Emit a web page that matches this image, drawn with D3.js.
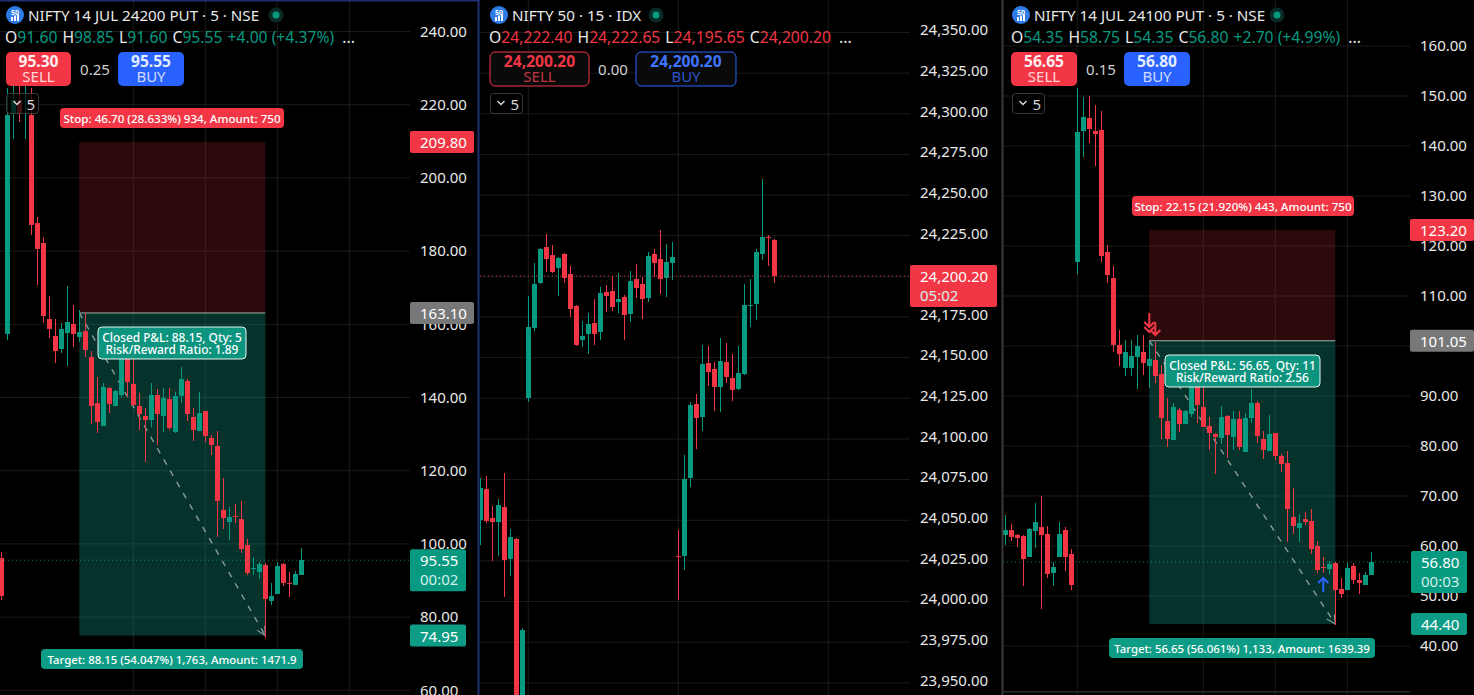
<!DOCTYPE html>
<html><head><meta charset="utf-8">
<script src="https://cdnjs.cloudflare.com/ajax/libs/d3/7.9.0/d3.min.js"></script>
<style>html,body{margin:0;padding:0;background:#000;overflow:hidden}svg{display:block}text{font-family:"Noto Sans",sans-serif}</style>
</head><body><svg id="c" width="1474" height="695"></svg>
<script>
const RED="#f23645",GREEN="#089981",BLUE="#2962ff",WHITE="#e8e8e8";

const p1Open=[96.1,157.4,217.7,221.3,225.7,217.2,187.6,182.2,161.4,156.8,153.3,157.6,160.1,156.5,158.2,151.1,138.5,132.2,142.6,137.7,140.7,150.8,143.7,137.7,135,133.9,140.7,135,139.6,130.6,140.4,144.5,134.7,130.9,136.3,128.9,126.7,109.3,106,107.6,106.8,99.7,93.1,92.3,94.2,84.4,86.3,94.5,89.4,88.8,91.5];
const p1High=[97.8,224.6,228.1,228.1,229.5,224.6,189.3,183.9,167.7,161.4,160.4,170.5,165.3,163.9,163.1,152.7,145.6,144,142.9,142.1,154.3,154.9,156.5,141.2,137.1,144,142.3,142.6,142.6,141.5,148.3,145,137.1,141.5,136.3,129.8,130.8,118,110.1,110.9,111.7,101.3,96.4,95,94.8,89.3,95,94.8,92.3,92.6,98.9];
const p1Low=[84.7,155.7,210.6,215.3,210.6,184.4,170.7,160.4,156.3,149.4,152.2,148.6,153.8,155.2,151.1,132.8,130.3,132.2,135.8,137.7,140.1,140.1,137.7,131.1,122.4,132,127,130.6,131.1,130.3,138.5,133.6,128.1,130.9,127.8,124.3,101.9,104.1,101.1,105.7,97.5,91.5,91.5,90.4,74.3,83.3,86.3,88.5,85.5,88.8,91.5];
const p1Close=[85.8,217.2,221.3,217.7,226.7,187.1,180.7,162.3,158.7,152.7,158.7,160.6,157.4,157.9,153,137.7,133.3,142.9,138.2,141.8,150.8,144.2,138,135.5,133.9,140.7,135.5,139.9,131.7,140.4,145,135.5,131.1,135.8,129.5,127,111.7,107.1,107.4,107.4,98.6,92,93.3,94.5,85,85.8,94,89.3,89.2,91.8,95.6];

const p2Open=[24050.2,24069.3,24051.4,24049,24058.2,24026.2,24038.5,23921,24125.2,24168.3,24196,24218.1,24213.2,24205.2,24213.8,24201.5,24181.8,24160.9,24164.6,24171.4,24165.8,24190.4,24191,24184.3,24187.3,24176.9,24198.4,24195.3,24186.7,24213.8,24210.7,24199,24208.3,24028.1,24028.1,24076,24121.5,24113.5,24146.8,24143.1,24132,24147.4,24137.5,24130.8,24140,24182.3,24183,24213.8,24223.9,24222.4];
const p2High=[24076,24077.3,24058.8,24063.1,24079.1,24044.7,24039.1,23983.8,24188,24208.3,24217.5,24226.1,24219.3,24212,24214.4,24206.4,24182.4,24172.6,24177.5,24186.1,24193.5,24194.7,24200.3,24202.1,24188.6,24203.3,24207.6,24199.6,24215,24216.9,24228.6,24220,24221.2,24044,24090.2,24122.8,24127.7,24157.8,24157.2,24147.4,24162.1,24159,24152.3,24157.2,24195.3,24198.4,24216.9,24259.9,24225.5,24223];
const p2Low=[24034.8,24048.4,24025,24028.1,24002.9,24015.8,23915,23915,24122.8,24166.4,24195.3,24202.7,24202.1,24188,24196,24175,24157.2,24156.6,24152.3,24157.8,24160.9,24178.1,24178.7,24177.5,24160.9,24172,24186.7,24173.8,24184.3,24199.6,24189.2,24187.3,24197.8,24001,24019.5,24070.5,24093.9,24104.9,24132.6,24117.2,24116.6,24134.5,24123.4,24130.2,24139.4,24168.9,24173.2,24210.1,24206.4,24196];
const p2Close=[24069.9,24049.6,24049,24059.4,24025.6,24039.7,23921,23982.6,24168.9,24195.3,24216.9,24210.7,24202.7,24211.3,24199,24180,24157.8,24163.4,24170.7,24164.6,24189.8,24188,24181.2,24186.1,24176.3,24197.2,24192.9,24186.1,24212.6,24208.3,24198.4,24208.9,24212,24027.4,24075.4,24120.9,24112.9,24146.1,24141.2,24132,24148,24138.1,24130.2,24140.6,24182.4,24182.6,24215,24224.2,24223.5,24200.2];

const p3Open=[62.2,63.2,62.2,62,57.8,63,63.8,62.4,54.6,57.8,63.2,58.4,116.8,143,145.6,143,143.2,118.8,113.6,100.2,95.6,95.6,97.8,98.8,96,97.2,94.4,85,81.2,87.2,84.4,86.4,93.4,87.8,84,82.4,81.6,86,81.8,85.4,78.8,85.6,88.6,81.4,79,82.6,78,76.6,65.8,63.6,65.4,65,60,55.8,55.4,56.6,51.4,51.2,56,53.2,52.2,54.2];
const p3High=[66.2,64.4,62.4,62.2,63.6,68.6,70,64,56.8,64.8,63.8,59.4,151.6,149.8,150,148.2,147,120.2,116,103.2,101.2,101.2,102.2,102.2,100.8,100.8,96.2,89.6,88.6,87.6,87.2,95.6,96.2,95.6,85.8,82.6,88,86.2,87,87,86.6,91.4,89,83,86.2,82.6,78.4,79,71.6,66.4,66.8,67.4,61,57.8,57,56.8,53.6,56.6,56.6,54.6,54.8,58.8];
const p3Low=[60.2,61,59.8,52,57.8,59.6,47.4,53.6,52,57.8,55,51.2,114.4,137.8,140.6,136,116.8,112.6,98.8,96,94,94,91.4,94.2,91.6,92.6,81.4,79.8,81.2,82.8,84.4,85.8,84.6,83.8,79.2,74.4,80.4,77.6,79.2,79.2,78.8,84.6,80.6,77.4,79,77.2,74.8,60.8,62.4,60.8,64.2,58.4,54.6,54.6,54.4,44.2,49.6,51.2,52.4,50.4,52.2,54.2];
const p3Close=[63.2,61.8,61.6,57.4,63.4,64.8,62.2,54.4,55.8,62.4,57.8,52.2,142.8,145.8,143.4,142.4,118,114.2,100.2,98.4,98.8,98,100,96.6,97.4,94,85.6,81.4,87.8,84.4,87,93.6,88.2,83.8,82.6,81.8,85.8,82.2,85.4,79.8,85.6,88.6,82,79.2,82.4,78,76.4,67.4,64,64.6,64.8,59.4,55.2,55.6,56.4,51.2,50.4,55.6,53.2,52.6,54.2,56.8];

const p1Ticks=[240,220,200,180,160,140,120,100,80,60];
const p2Ticks=[24350,24325,24300,24275,24250,24225,24200,24175,24150,24125,24100,24075,24050,24025,24000,23975,23950];
const p3Ticks=[160,150,140,130,120,110,100,90,80,70,60,50,40];
const p1Grid=[22,34,46,58], p2Grid=[8,33,58], p3Grid=[12,33,45,57];

const p1Title="NIFTY 14 JUL 24200 PUT · 5 · NSE", p2Title="NIFTY 50 · 15 · IDX", p3Title="NIFTY 14 JUL 24100 PUT · 5 · NSE";
const p1Head=["91.60","98.85","91.60","95.55","+4.00 (+4.37%)"];
const p2Head=["24,222.40","24,222.65","24,195.65","24,200.20",""];
const p3Head=["54.35","58.75","54.35","56.80","+2.70 (+4.99%)"];
const p1Quote=["95.30","0.25","95.55"], p2Quote=["24,200.20","0.00","24,200.20"], p3Quote=["56.65","0.15","56.80"];
const p1Trade=[209.80,163.10,74.95], p3Trade=[123.20,101.05,44.40];
const p1TradeSpan=[13,44], p3TradeSpan=[24,55];
const p1Notes=["Stop: 46.70 (28.633%) 934, Amount: 750","Closed P&L: 88.15, Qty: 5","Risk/Reward Ratio: 1.89","Target: 88.15 (54.047%) 1,763, Amount: 1471.9"];
const p3Notes=["Stop: 22.15 (21.920%) 443, Amount: 750","Closed P&L: 56.65, Qty: 11","Risk/Reward Ratio: 2.56","Target: 56.65 (56.061%) 1,133, Amount: 1639.39"];

const svg=d3.select("#c");
const defs=svg.append("defs");
defs.append("marker").attr("id","ah").attr("markerUnits","userSpaceOnUse").attr("viewBox","0 0 10 10").attr("refX",9).attr("refY",5)
 .attr("markerWidth",11).attr("markerHeight",11).attr("orient","auto")
 .append("path").attr("d","M1,1L9,5L1,9").attr("fill","none").attr("stroke","#8c9c98").attr("stroke-width",1);

function rrect(g,x,y,w,h,fill,stroke){return g.append("rect").attr("x",x).attr("y",y).attr("width",w).attr("height",h).attr("rx",5).attr("fill",fill).attr("stroke",stroke||"none");}
function txt(g,x,y,s,size,fill,anchor,weight){return g.append("text").attr("x",x).attr("y",y).attr("font-size",size).attr("fill",fill).attr("text-anchor",anchor||"start").attr("dominant-baseline","central").attr("font-weight",weight||400).text(s);}

function panel(o){
 const id="cl"+o.left;
 defs.append("clipPath").attr("id",id).append("rect").attr("x",o.left).attr("y",0).attr("width",o.axisX-o.left).attr("height",695);
 const y=d3.scaleLinear().domain(o.yDomain).range(o.yRange);
 const x=d3.scaleLinear().domain([0,1]).range([o.x0,o.x0+6]);
 const g=svg.append("g");
 const plot=g.append("g").attr("clip-path",`url(#${id})`);
 plot.selectAll(".h").data(o.ticks).join("line").attr("x1",o.left).attr("x2",o.axisX).attr("y1",d=>y(d)).attr("y2",d=>y(d)).attr("stroke","#1b1b1b");
 plot.selectAll(".v").data(o.grid).join("line").attr("x1",d=>x(d)).attr("x2",d=>x(d)).attr("y1",0).attr("y2",695).attr("stroke","#1b1b1b");
 if(o.trade){
  const [st,en,tg]=o.trade,[a,b]=o.span,xa=x(a),xb=x(b);
  plot.append("rect").attr("x",xa).attr("width",xb-xa).attr("y",y(st)).attr("height",y(en)-y(st)).attr("fill","rgba(242,54,69,0.18)");
  plot.append("rect").attr("x",xa).attr("width",xb-xa).attr("y",y(en)).attr("height",y(tg)-y(en)).attr("fill","rgba(16,160,135,0.32)");
  plot.append("line").attr("x1",xa).attr("x2",xb).attr("y1",y(en)).attr("y2",y(en)).attr("stroke","#a8b0ae");
  plot.append("line").attr("x1",xa).attr("y1",y(en)).attr("x2",xb).attr("y2",y(tg)).attr("stroke","#8c9c98").attr("stroke-width",1.4).attr("stroke-dasharray","6 7").attr("marker-end","url(#ah)");
 }
 const idx=d3.range(o.open.length);
 plot.selectAll(".w").data(idx).join("line").attr("shape-rendering","crispEdges").attr("x1",i=>x(i)).attr("x2",i=>x(i)).attr("y1",i=>y(o.high[i])).attr("y2",i=>y(o.low[i])).attr("stroke",i=>o.close[i]>=o.open[i]?GREEN:RED);
 plot.selectAll(".b").data(idx).join("rect").attr("shape-rendering","crispEdges").attr("x",i=>x(i)-2.5).attr("width",5)
  .attr("y",i=>y(Math.max(o.open[i],o.close[i]))).attr("height",i=>Math.max(1,Math.abs(y(o.open[i])-y(o.close[i])))).attr("fill",i=>o.close[i]>=o.open[i]?GREEN:RED);
 plot.append("line").attr("x1",o.left).attr("x2",o.axisX).attr("y1",y(o.last)).attr("y2",y(o.last)).attr("stroke",o.lastColor).attr("stroke-dasharray","1 3").attr("opacity",.85);
 const ax=d3.axisRight(y).tickValues(o.ticks).tickSize(0).tickPadding(10).tickFormat(d3.format(o.fmt));
 const ag=g.append("g").attr("transform",`translate(${o.axisX},0)`).call(ax);
 ag.select(".domain").remove();
 ag.selectAll("text").attr("font-size",15).attr("fill",WHITE).attr("font-family",'"Noto Sans",sans-serif').attr("transform",`translate(0,${o.tickShift||0})`);
 return {g,x,y};
}

function header(o){
 const g=svg.append("g");
 g.append("circle").attr("cx",o.hx+15).attr("cy",15).attr("r",9).attr("fill","#2e7be8");
 txt(g,o.hx+15,12,"50",7,"#fff","middle",700);
 g.append("rect").attr("x",o.hx+11).attr("y",17).attr("width",2).attr("height",4).attr("fill","#fff");
 g.append("rect").attr("x",o.hx+14).attr("y",15.5).attr("width",2).attr("height",5.5).attr("fill","#fff");
 g.append("rect").attr("x",o.hx+17).attr("y",14.5).attr("width",2).attr("height",6.5).attr("fill","#fff");
 txt(g,o.hx+28,15,o.title,15.2,WHITE);
 g.append("circle").attr("cx",o.dot).attr("cy",15).attr("r",7.5).attr("fill","#0a2a25");
 g.append("circle").attr("cx",o.dot).attr("cy",15).attr("r",3.5).attr("fill",GREEN);
 const t=g.append("text").attr("x",o.hx+5).attr("y",37).attr("font-size",15.7).attr("dominant-baseline","central");
 ["O","H","L","C"].forEach((k,i)=>{
  t.append("tspan").attr("fill",WHITE).attr("dx",i?5:0).text(k);
  t.append("tspan").attr("fill",o.hc).text(o.head[i]);
 });
 if(o.head[4])t.append("tspan").attr("fill",o.hc).attr("dx",5).text(o.head[4]);
 t.append("tspan").attr("fill",WHITE).attr("dx",8).text("...");
 const [sx,sw,mx,bx,bw]=o.btn;
 rrect(g,sx,52,sw,34,o.outline?"#0a0a0a":RED,o.outline?RED:null);
 rrect(g,bx,52,bw,34,o.outline?"#0a0a0a":BLUE,o.outline?BLUE:null);
 const c1=o.outline?RED:"#ffeef0",c2=o.outline?"#3f74ff":"#e4ecff";
 txt(g,sx+sw/2,61,o.quote[0],15.6,c1,"middle",700);
 txt(g,sx+sw/2,76,"SELL",15,o.outline?"#c23440":"#ffd6da","middle");
 txt(g,mx,69,o.quote[1],15,"#cfcfcf","middle");
 txt(g,bx+bw/2,61,o.quote[2],15.6,c2,"middle",700);
 txt(g,bx+bw/2,76,"BUY",15,o.outline?"#2a55c8":"#cfdcff","middle");
 g.append("rect").attr("x",o.pill).attr("y",93.5).attr("width",32).attr("height",20).attr("rx",3).attr("fill","rgba(0,0,0,.72)").attr("stroke","#3a3a3a");
 g.append("path").attr("d",`M${o.pill+7},101l3.5,3.5l3.5,-3.5`).attr("fill","none").attr("stroke","#ddd").attr("stroke-width",1.3);
 txt(g,o.pill+20,103.5,"5",15,"#d8d8d8");
}

function priceTag(g,x,y,w,fill,a,b){
 const h=b?42:22;
 g.append("rect").attr("x",x).attr("y",y-11).attr("width",w).attr("height",h).attr("rx",2).attr("fill",fill);
 txt(g,x+10,y,a,15,"#fff");
 if(b)txt(g,x+10,y+19,b,15,"#d3f0ea");
}
function note(g,cx,cy,w,fill,s,size){
 g.append("rect").attr("x",cx-w/2).attr("y",cy-10).attr("width",w).attr("height",20).attr("rx",4).attr("fill",fill);
 txt(g,cx,cy,s,size,"#fff","middle",500);
}
function closed(g,cx,cy,w,a,b){
 g.append("rect").attr("x",cx-w/2).attr("y",cy-16).attr("width",w).attr("height",32).attr("rx",4).attr("fill","#0d9c85").attr("fill-opacity",.93).attr("stroke","#e8f5f2");
 txt(g,cx,cy-6.3,a,11.9,"#fff","middle",500);
 txt(g,cx,cy+6.2,b,11.9,"#fff","middle",500);
}
function arrow(g,x,yTop,yBot,color,dir,extra){
 const tip=dir>0?yBot:yTop;
 g.append("path").attr("d",`M${x},${yTop}L${x},${yBot}M${x-5},${tip-dir*5}L${x},${tip}L${x+5},${tip-dir*5}`).attr("fill","none").attr("stroke",color).attr("stroke-width",2);
 if(extra)g.append("path").attr("d",`M${x-5},${tip-dir*5+extra}L${x},${tip+extra}L${x+5},${tip-dir*5+extra}`).attr("fill","none").attr("stroke",color).attr("stroke-width",2);
}

const P1=panel({left:0,axisX:410,x0:1.3,yDomain:[120,60],yRange:[470.7,690.3],open:p1Open,high:p1High,low:p1Low,close:p1Close,ticks:p1Ticks,grid:p1Grid,fmt:",.2f",trade:p1Trade,span:p1TradeSpan,last:95.55,lastColor:GREEN});
const P2=panel({left:480,axisX:910,x0:480.3,yDomain:[24225,24175],yRange:[235.7,317],open:p2Open,high:p2High,low:p2Low,close:p2Close,ticks:p2Ticks,grid:p2Grid,fmt:",.2f",last:24200.2,lastColor:RED,tickShift:-2.5});
const P3=panel({left:1003,axisX:1410,x0:1005.3,yDomain:[160,40],yRange:[46,646],open:p3Open,high:p3High,low:p3Low,close:p3Close,ticks:p3Ticks,grid:p3Grid,fmt:",.2f",trade:p3Trade,span:p3TradeSpan,last:56.8,lastColor:GREEN});

svg.append("rect").attr("x",0).attr("y",0).attr("width",480).attr("height",1.5).attr("fill","#1f2f73");
svg.append("rect").attr("x",477.5).attr("y",0).attr("width",2).attr("height",695).attr("fill","#1f2f73");
svg.append("rect").attr("x",1001.5).attr("y",0).attr("width",2).attr("height",695).attr("fill","#3a3a3c");
svg.append("rect").attr("x",1003).attr("y",691).attr("width",407).attr("height",1.5).attr("fill","#2b2b2b");

header({hx:0,title:p1Title,dot:276,head:p1Head,hc:GREEN,quote:p1Quote,btn:[6,65,95,118,66],pill:6.5});
header({hx:484,title:p2Title,dot:656,head:p2Head,hc:RED,quote:p2Quote,btn:[490,99,613,636,100],pill:490.5,outline:true});
header({hx:1006,title:p3Title,dot:1277,head:p3Head,hc:GREEN,quote:p3Quote,btn:[1011,66,1101,1124,66],pill:1012.5});

{const g=svg.append("g"),y=P1.y;
 note(g,172,118,224,RED,p1Notes[0],11.6);
 closed(g,172,343,148,p1Notes[1],p1Notes[2]);
 note(g,172,659,262,"#0d9c85",p1Notes[3],11.4);
 priceTag(g,410,y(209.8),64,RED,"209.80");
 priceTag(g,410,y(163.1),64,"#787878","163.10");
 priceTag(g,410,y(95.55),56,GREEN,"95.55","00:02");
 priceTag(g,410,y(74.95),56,"#0d9c85","74.95");
}
{const g=svg.append("g"),y=P2.y;
 priceTag(g,910,y(24200.2),87,RED,"24,200.20","05:02");
}
{const g=svg.append("g"),y=P3.y,x=P3.x;
 note(g,1243,206,222,RED,p3Notes[0],11.6);
 closed(g,1242.5,371,155,p3Notes[1],p3Notes[2]);
 note(g,1242,648,266,"#0d9c85",p3Notes[3],11.4);
 arrow(g,x(24),313,327,RED,1,5);
 arrow(g,x(25),322,335,RED,1);
 arrow(g,x(53),578,592,BLUE,-1);
 priceTag(g,1410,y(123.2),64,RED,"123.20");
 priceTag(g,1410,y(101.05),64,"#787878","101.05");
 priceTag(g,1411,y(56.8),56,GREEN,"56.80","00:03");
 priceTag(g,1411,y(44.4),56,"#0d9c85","44.40");
}
</script></body></html>
